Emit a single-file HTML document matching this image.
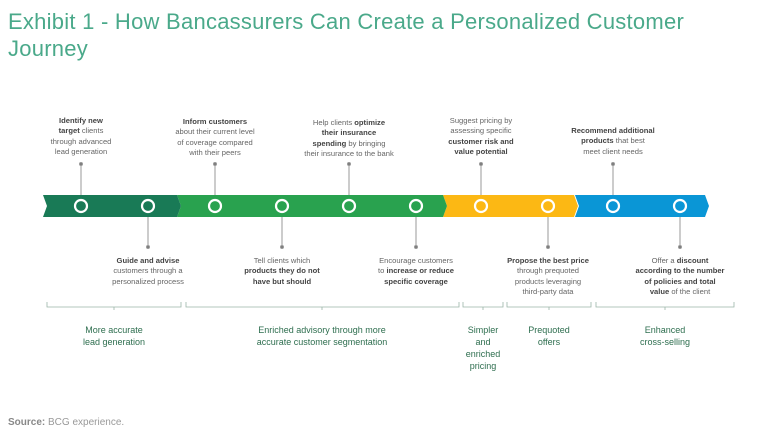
<!DOCTYPE html>
<html><head><meta charset="utf-8"><style>
body{margin:0;width:768px;height:440px;background:#fff;position:relative;overflow:hidden;font-family:"Liberation Sans",sans-serif}
.t{position:absolute;left:8px;top:8px;font-size:22px;line-height:27px;color:#4aa98a;letter-spacing:0.25px}
.l{position:absolute;width:140px;margin-left:-70px;text-align:center;font-size:7.6px;line-height:10.4px;color:#666}
.l b{color:#444}
.g{position:absolute;text-align:center;font-size:9px;line-height:12px;color:#2e6e4f}
.s{position:absolute;left:8px;top:417px;font-size:10px;color:#999}
.s b{color:#888}
</style></head><body>
<div class="t">Exhibit 1 - How Bancassurers Can Create a Personalized Customer<br>Journey</div>
<svg width="768" height="440" style="position:absolute;left:0;top:0">
<g stroke="#999" stroke-width="1" fill="#777">
<line x1="81" y1="164" x2="81" y2="196"/><circle cx="81" cy="164" r="1.5"/>
<line x1="215" y1="164" x2="215" y2="196"/><circle cx="215" cy="164" r="1.5"/>
<line x1="349" y1="164" x2="349" y2="196"/><circle cx="349" cy="164" r="1.5"/>
<line x1="481" y1="164" x2="481" y2="196"/><circle cx="481" cy="164" r="1.5"/>
<line x1="613" y1="164" x2="613" y2="196"/><circle cx="613" cy="164" r="1.5"/>
<line x1="148" y1="216" x2="148" y2="247"/><circle cx="148" cy="247" r="1.5"/>
<line x1="282" y1="216" x2="282" y2="247"/><circle cx="282" cy="247" r="1.5"/>
<line x1="416" y1="216" x2="416" y2="247"/><circle cx="416" cy="247" r="1.5"/>
<line x1="548" y1="216" x2="548" y2="247"/><circle cx="548" cy="247" r="1.5"/>
<line x1="680" y1="216" x2="680" y2="247"/><circle cx="680" cy="247" r="1.5"/>
</g>
<polygon points="575,195 705,195 709,206 705,217 575,217 579,206" fill="#0a96d6"/>
<polygon points="443,195 574,195 578,206 574,217 443,217 447,206" fill="#fcb814"/>
<polygon points="177,195 443,195 447,206 443,217 177,217 181,206" fill="#29a24f"/>
<polygon points="43,195 177,195 181,206 177,217 43,217 47,206" fill="#197a56"/>
<g fill="none" stroke="#fff" stroke-width="2.2">
<circle cx="81" cy="206" r="6"/><circle cx="148" cy="206" r="6"/><circle cx="215" cy="206" r="6"/><circle cx="282" cy="206" r="6"/><circle cx="349" cy="206" r="6"/><circle cx="416" cy="206" r="6"/><circle cx="481" cy="206" r="6"/><circle cx="548" cy="206" r="6"/><circle cx="613" cy="206" r="6"/><circle cx="680" cy="206" r="6"/>
</g>
<g fill="none" stroke="#9bb5a8" stroke-width="0.8">
<path d="M47,302V307H181V302M114,307v3"/>
<path d="M186,302V307H459V302M322,307v3"/>
<path d="M463,302V307H503V302M483,307v3"/>
<path d="M507,302V307H591V302M549,307v3"/>
<path d="M596,302V307H734V302M665,307v3"/>
</g>
</svg>
<div class="l" style="left:81px;top:116px"><b>Identify new<br>target</b> clients<br>through advanced<br>lead generation</div>
<div class="l" style="left:215px;top:117px"><b>Inform customers</b><br>about their current level<br>of coverage compared<br>with their peers</div>
<div class="l" style="left:349px;top:118px">Help clients <b>optimize<br>their insurance<br>spending</b> by bringing<br>their insurance to the bank</div>
<div class="l" style="left:481px;top:116px">Suggest pricing by<br>assessing specific<br><b>customer risk and<br>value potential</b></div>
<div class="l" style="left:613px;top:126px"><b>Recommend additional<br>products</b> that best<br>meet client needs</div>
<div class="l" style="left:148px;top:256px"><b>Guide and advise</b><br>customers through a<br>personalized process</div>
<div class="l" style="left:282px;top:256px">Tell clients which<br><b>products they do not<br>have but should</b></div>
<div class="l" style="left:416px;top:256px">Encourage customers<br>to <b>increase or reduce<br>specific coverage</b></div>
<div class="l" style="left:548px;top:256px"><b>Propose the best price</b><br>through prequoted<br>products leveraging<br>third-party data</div>
<div class="l" style="left:680px;top:256px">Offer a <b>discount<br>according to the number<br>of policies and total<br>value</b> of the client</div>
<div class="g" style="left:64px;width:100px;top:324px">More accurate<br>lead generation</div>
<div class="g" style="left:222px;width:200px;top:324px">Enriched advisory through more<br>accurate customer segmentation</div>
<div class="g" style="left:453px;width:60px;top:324px">Simpler<br>and<br>enriched<br>pricing</div>
<div class="g" style="left:509px;width:80px;top:324px">Prequoted<br>offers</div>
<div class="g" style="left:615px;width:100px;top:324px">Enhanced<br>cross-selling</div>
<div class="s"><b>Source:</b> BCG experience.</div>
</body></html>
